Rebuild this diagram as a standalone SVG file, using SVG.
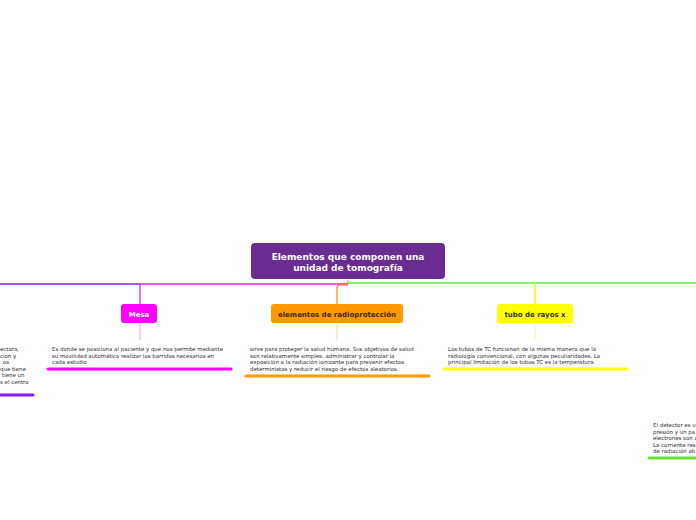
<svg xmlns="http://www.w3.org/2000/svg" width="696" height="520" viewBox="0 0 696 520">
<style>
.t{font-family:"DejaVu Sans",Verdana,sans-serif;font-size:5.45px;fill:#2b2b2b}
.lbl{font-family:"DejaVu Sans",Verdana,sans-serif;font-weight:bold;font-size:7px;text-anchor:middle}
.root{font-family:"DejaVu Sans",Verdana,sans-serif;font-weight:bold;font-size:9px;fill:#fff;text-anchor:middle}
.c{fill:none;stroke-width:1.3}
.stub{fill:none;stroke-width:0.8}
.ul{stroke-width:3;stroke-linecap:round}
</style>
<rect width="696" height="520" fill="#fff"/>
<g id="connectors">
<path class="c" d="M348,280 V283 H696" stroke="#5ef03a"/>
<path class="c" d="M348,284 H140 V304" stroke="#e61ee6"/>
<path class="c" d="M140,284 H0" stroke="#8a1cf5"/>
<path class="c" d="M348,285 H340 Q337,285 337,288 V304" stroke="#f7941d"/>
<path class="c" d="M535,283 V304" stroke="#eeee00"/>
<path class="stub" d="M140,323 V340" stroke="#f58cf5"/>
<path class="stub" d="M337,323 V340" stroke="#fbc88a"/>
<path class="stub" d="M535,323 V340" stroke="#f5f590"/>
</g>
<g id="root">
<rect x="251" y="243" width="194" height="36" rx="4" fill="#6b2c91"/>
<text class="root" x="348" y="260">Elementos que componen una</text>
<text class="root" x="348" y="271">unidad de tomografía</text>
</g>
<g id="mesa">
<rect x="121" y="304" width="36" height="19" rx="3" fill="#ff00ff"/>
<text class="lbl" x="139" y="316.5" fill="#fff">Mesa</text>
</g>
<g id="radioproteccion">
<rect x="271" y="304" width="132" height="19" rx="3" fill="#ff9900"/>
<text class="lbl" x="337" y="316.5" fill="#3a2a10">elementos de radioprotección</text>
</g>
<g id="tubo">
<rect x="497" y="304" width="76" height="19" rx="3" fill="#ffff00"/>
<text class="lbl" x="535" y="316.5" fill="#333">tubo de rayos x</text>
</g>
<g id="mesa-text">
<text class="t" x="52" y="351">Es donde se posiciona al paciente y que nos permite mediante</text>
<text class="t" x="52" y="357.5">su movilidad automática realizar los barridos necesarios en</text>
<text class="t" x="52" y="364">cada estudio</text>
<line class="ul" x1="48" y1="369" x2="231" y2="369" stroke="#ff00ff"/>
</g>
<g id="radio-text">
<text class="t" x="250" y="351">sirve para proteger la salud humana. Sus objetivos de salud</text>
<text class="t" x="250" y="357.5">son relativamente simples: administrar y controlar la</text>
<text class="t" x="250" y="364">exposición a la radiación ionizante para prevenir efectos</text>
<text class="t" x="250" y="370.5">deterministas y reducir el riesgo de efectos aleatorios.</text>
<line class="ul" x1="246" y1="376" x2="429" y2="376" stroke="#ff9900"/>
</g>
<g id="tubo-text">
<text class="t" x="448" y="351">Los tubos de TC funcionan de la misma manera que la</text>
<text class="t" x="448" y="357.5">radiología convencional, con algunas peculiaridades. La</text>
<text class="t" x="448" y="364">principal limitación de los tubos TC es la temperatura.</text>
<line class="ul" x1="444" y1="369" x2="627" y2="369" stroke="#ffff00"/>
</g>
<g id="left-text">
<text class="t" x="0" y="351">ectora,</text>
<text class="t" x="0" y="357.5">ción y</text>
<text class="t" x="3" y="364">os</text>
<text class="t" x="0" y="370.5">que tiene</text>
<text class="t" x="2" y="377">tiene un</text>
<text class="t" x="0" y="383.5">s el centro</text>
<line class="ul" x1="0" y1="395" x2="33" y2="395" stroke="#8a1cf5"/>
</g>
<g id="right-text">
<text class="t" x="653" y="427">El detector es u</text>
<text class="t" x="653" y="433.5">presión y un pa</text>
<text class="t" x="653" y="440">electrones son a</text>
<text class="t" x="653" y="446.5">La corriente res</text>
<text class="t" x="653" y="453">de radiación ab</text>
<line class="ul" x1="649" y1="458" x2="696" y2="458" stroke="#66e032"/>
</g>
</svg>
